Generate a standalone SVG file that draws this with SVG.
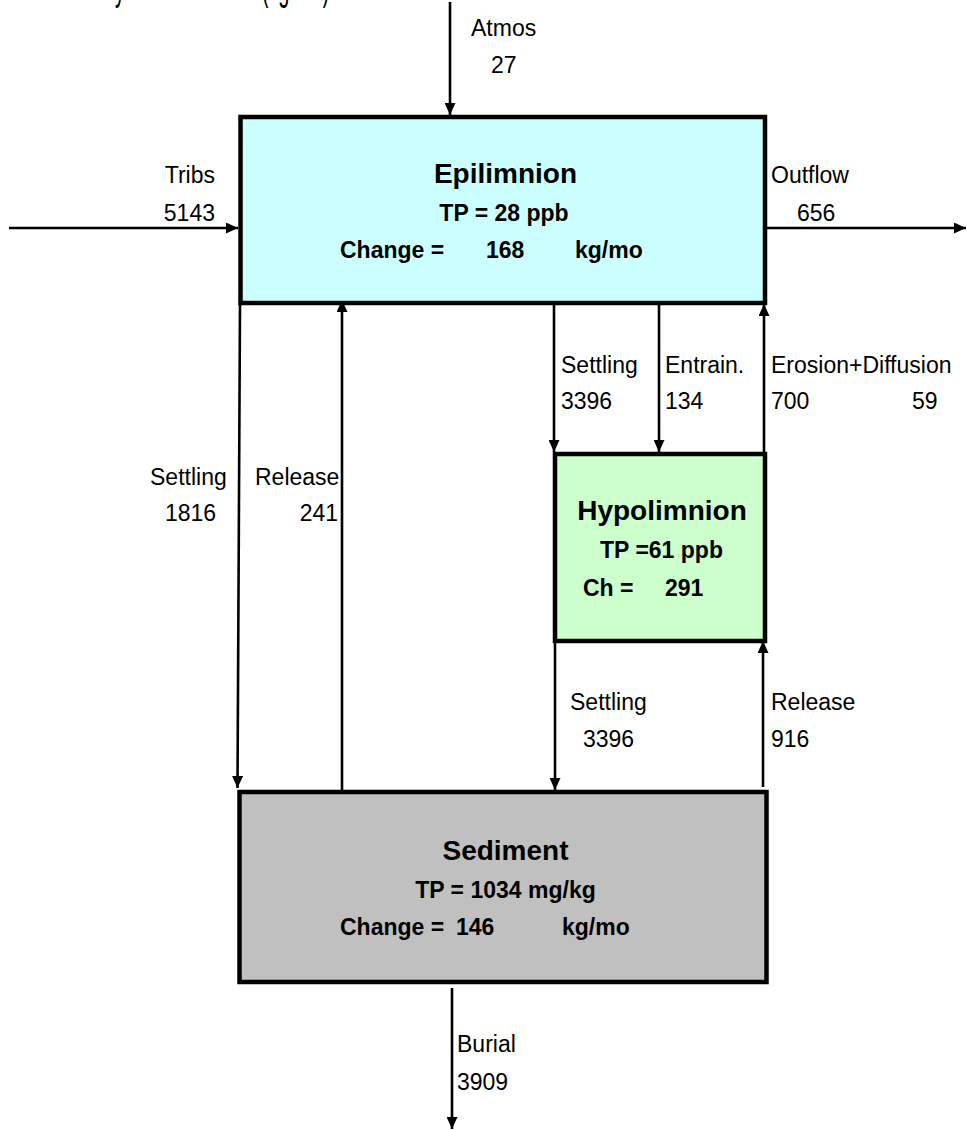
<svg xmlns="http://www.w3.org/2000/svg" width="967" height="1130" viewBox="0 0 967 1130">
<style>
.lbl{font-family:"Liberation Sans",Arial,sans-serif;font-size:23px;fill:#000}
.ttl{font-family:"Liberation Sans",Arial,sans-serif;font-size:28px;font-weight:bold;fill:#000}
.val{font-family:"Liberation Sans",Arial,sans-serif;font-size:23px;font-weight:bold;fill:#000}
.box{stroke:#000;stroke-width:4.5}
.con{stroke:#000;stroke-width:2.6;fill:none;marker-end:url(#ah)}
</style>
<defs>
<marker id="ah" markerUnits="userSpaceOnUse" markerWidth="12" markerHeight="11" refX="12" refY="5.5" orient="auto">
<path d="M0,0 L12,5.5 L0,11 z" fill="#000"/>
</marker>
</defs>
<rect width="967" height="1130" fill="#fff"/>
<text x="55" y="0" transform="scale(1,2)" style="font-family:'Liberation Sans',Arial,sans-serif;font-size:20px">Monthly Mass Balance (kg/mo)</text>
<g id="connectors">
<line class="con" x1="450" y1="2" x2="450" y2="115"/>
<line class="con" x1="9" y1="228" x2="238" y2="228"/>
<line class="con" x1="767" y1="228" x2="966" y2="228"/>
<line class="con" x1="240" y1="303" x2="237.5" y2="788"/>
<line class="con" x1="342" y1="790" x2="342" y2="300"/>
<line class="con" x1="554" y1="303" x2="554" y2="452"/>
<line class="con" x1="659" y1="303" x2="659" y2="452"/>
<line class="con" x1="764" y1="452" x2="764" y2="304"/>
<line class="con" x1="555" y1="642" x2="555" y2="790"/>
<line class="con" x1="763" y1="787" x2="763" y2="641"/>
<line class="con" x1="452" y1="988" x2="452" y2="1129"/>
<text class="lbl" x="471" y="36">Atmos</text>
<text class="lbl" x="491" y="73">27</text>
<text class="lbl" x="215" y="183" text-anchor="end">Tribs</text>
<text class="lbl" x="215" y="221" text-anchor="end">5143</text>
<text class="lbl" x="771" y="183">Outflow</text>
<text class="lbl" x="797" y="221">656</text>
<text class="lbl" x="150" y="485">Settling</text>
<text class="lbl" x="165" y="521">1816</text>
<text class="lbl" x="255" y="485">Release</text>
<text class="lbl" x="338" y="521" text-anchor="end">241</text>
<text class="lbl" x="561" y="373">Settling</text>
<text class="lbl" x="561" y="409">3396</text>
<text class="lbl" x="665" y="373">Entrain.</text>
<text class="lbl" x="665" y="409">134</text>
<text class="lbl" x="771" y="373">Erosion+Diffusion</text>
<text class="lbl" x="771" y="409">700</text>
<text class="lbl" x="912" y="409">59</text>
<text class="lbl" x="570" y="710">Settling</text>
<text class="lbl" x="583" y="747">3396</text>
<text class="lbl" x="771" y="710">Release</text>
<text class="lbl" x="771" y="747">916</text>
<text class="lbl" x="457" y="1052">Burial</text>
<text class="lbl" x="457" y="1090">3909</text>
</g>
<g id="epilimnion">
<rect class="box" x="240.5" y="117" width="524.5" height="186" fill="#CCFFFF"/>
<text class="ttl" x="505.5" y="183" text-anchor="middle">Epilimnion</text>
<text class="val" x="504" y="221" text-anchor="middle">TP = 28 ppb</text>
<text class="val" x="340" y="258">Change =</text>
<text class="val" x="486" y="258">168</text>
<text class="val" x="575" y="258">kg/mo</text>
</g>
<g id="hypolimnion">
<rect class="box" x="555" y="454" width="210" height="187" fill="#CCFFCC"/>
<text class="ttl" x="662" y="520" text-anchor="middle">Hypolimnion</text>
<text class="val" x="661.5" y="558" text-anchor="middle">TP =61 ppb</text>
<text class="val" x="583" y="596">Ch =</text>
<text class="val" x="665" y="596">291</text>
</g>
<g id="sediment">
<rect class="box" x="239.5" y="792" width="527" height="190" fill="#C0C0C0"/>
<text class="ttl" x="505.5" y="860" text-anchor="middle">Sediment</text>
<text class="val" x="505.5" y="898" text-anchor="middle">TP = 1034 mg/kg</text>
<text class="val" x="340" y="935">Change =</text>
<text class="val" x="456" y="935">146</text>
<text class="val" x="562" y="935">kg/mo</text>
</g>
</svg>
